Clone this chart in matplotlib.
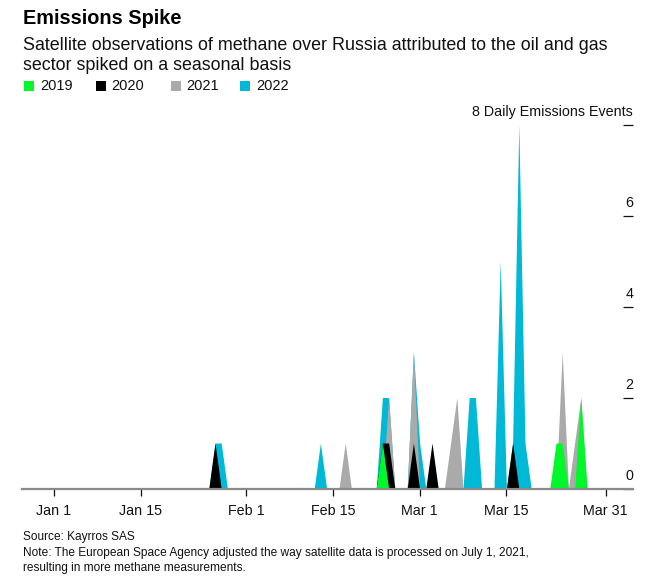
import matplotlib
matplotlib.use("Agg")
import matplotlib.pyplot as plt
from matplotlib.patches import Rectangle
import datetime as dt
import numpy as np

# ---------------- data ----------------
tick_labels = ["Jan 1", "Jan 15", "Feb 1", "Feb 15", "Mar 1", "Mar 15", "Mar 31"]
ytick_values = [0, 2, 4, 6, 8]

dates_2019 = ["Feb 23", "Mar 23", "Mar 24", "Mar 27"]
values_2019 = [1, 1, 1, 2]

dates_2020 = ["Jan 27", "Feb 23", "Feb 24", "Feb 28", "Mar 3", "Mar 16"]
values_2020 = [1, 1, 1, 1, 1, 1]

dates_2021 = ["Feb 17", "Feb 24", "Feb 28", "Mar 6", "Mar 7", "Mar 24", "Mar 26", "Mar 27"]
values_2021 = [1, 2, 3, 1, 2, 3, 1, 2]

dates_2022 = ["Jan 27", "Jan 28", "Feb 13", "Feb 23", "Feb 24", "Feb 28", "Mar 1",
              "Mar 9", "Mar 10", "Mar 14", "Mar 16", "Mar 17", "Mar 18"]
values_2022 = [1, 1, 1, 2, 2, 3, 1, 2, 2, 5, 1, 8, 1]

series_years = ["2019", "2020", "2021", "2022"]
series_colors = ["#00f82a", "#000000", "#aaaaaa", "#00b9d6"]

# ---------------- helpers ----------------
BASE = dt.date(2021, 1, 1)


def day_index(label):
    d = dt.datetime.strptime(label + " 2021", "%b %d %Y").date()
    return (d - BASE).days


n_days = day_index("Mar 31") + 1
days = np.arange(n_days)


def daily(dates, values):
    arr = np.zeros(n_days)
    for d, v in zip(dates, values):
        arr[day_index(d)] = v
    return arr


series = {
    "2019": daily(dates_2019, values_2019),
    "2020": daily(dates_2020, values_2020),
    "2021": daily(dates_2021, values_2021),
    "2022": daily(dates_2022, values_2022),
}

W, H = 660, 576
FONT = "Liberation Sans"
plt.rcParams["font.family"] = [FONT, "DejaVu Sans"]

fig = plt.figure(figsize=(W / 100, H / 100), dpi=100)


def fx(x):
    return x / W


def fy(y):
    return 1 - y / H


ax_left, ax_right, ax_top, ax_bottom = 22, 633, 124.5, 488.5
ax = fig.add_axes([fx(ax_left), fy(ax_bottom), fx(ax_right - ax_left), (ax_bottom - ax_top) / H])

# draw order: 2022 at back, then 2021, 2020, 2019 in front
for yr, z in zip(["2022", "2021", "2020", "2019"], [1, 2, 3, 4]):
    col = series_colors[series_years.index(yr)]
    ax.fill_between(days, 0, series[yr], color=col, lw=0, zorder=z)

px_per_day = 6.2
x0_day = 31 - (246 - ax_left) / px_per_day
x1_day = 31 + (ax_right - 246) / px_per_day
ax.set_xlim(x0_day, x1_day)
ax.set_ylim(0, 8)

for s in ["top", "left", "right"]:
    ax.spines[s].set_visible(False)
ax.spines["bottom"].set_color("#8a8a8a")
ax.spines["bottom"].set_linewidth(1.6)
ax.spines["bottom"].set_zorder(10)

ax.set_xticks([day_index(t) for t in tick_labels])
ax.set_xticklabels(tick_labels, fontsize=10.3, color="#111111")
ax.tick_params(axis="x", direction="out", length=5, width=0.9, color="#111111", pad=6)

ax.yaxis.tick_right()
ax.set_yticks(ytick_values)
ax.tick_params(axis="y", direction="in", length=7, width=0.9, color="#111111",
               labelright=False, labelleft=False)

for v in ytick_values:
    label = str(v) if v != 8 else "8 Daily Emissions Events"
    ax.annotate(label, xy=(1.0, v), xycoords=ax.get_yaxis_transform(),
                xytext=(0, 4), textcoords="offset points",
                ha="right", va="bottom", fontsize=10.3, color="#111111",
                annotation_clip=False)

# titles
fig.text(fx(23), fy(18), "Emissions Spike", fontsize=14.3, fontweight="bold",
         ha="left", va="center", color="#000000")
fig.text(fx(23), fy(45), "Satellite observations of methane over Russia attributed to the oil and gas",
         fontsize=12.9, ha="left", va="center", color="#111111")
fig.text(fx(23), fy(65), "sector spiked on a seasonal basis",
         fontsize=12.9, ha="left", va="center", color="#111111")

# legend
leg_sq_x = [24, 96, 171, 240]
leg_txt_x = [40, 111, 186, 256]
for yr, col, sx, tx in zip(series_years, series_colors, leg_sq_x, leg_txt_x):
    fig.patches.append(Rectangle((fx(sx), fy(91)), 10 / W, 10 / H, transform=fig.transFigure,
                                 facecolor=col, edgecolor="none"))
    fig.text(fx(tx), fy(86), yr, fontsize=10.5, ha="left", va="center", color="#111111")

# footer
fig.text(fx(23), fy(537), "Source: Kayrros SAS", fontsize=8.6, ha="left", va="center", color="#111111")
fig.text(fx(23), fy(553),
         "Note: The European Space Agency adjusted the way satellite data is processed on July 1, 2021,",
         fontsize=8.6, ha="left", va="center", color="#111111")
fig.text(fx(23), fy(568), "resulting in more methane measurements.", fontsize=8.6,
         ha="left", va="center", color="#111111")

fig.savefig("out.png", dpi=100)
